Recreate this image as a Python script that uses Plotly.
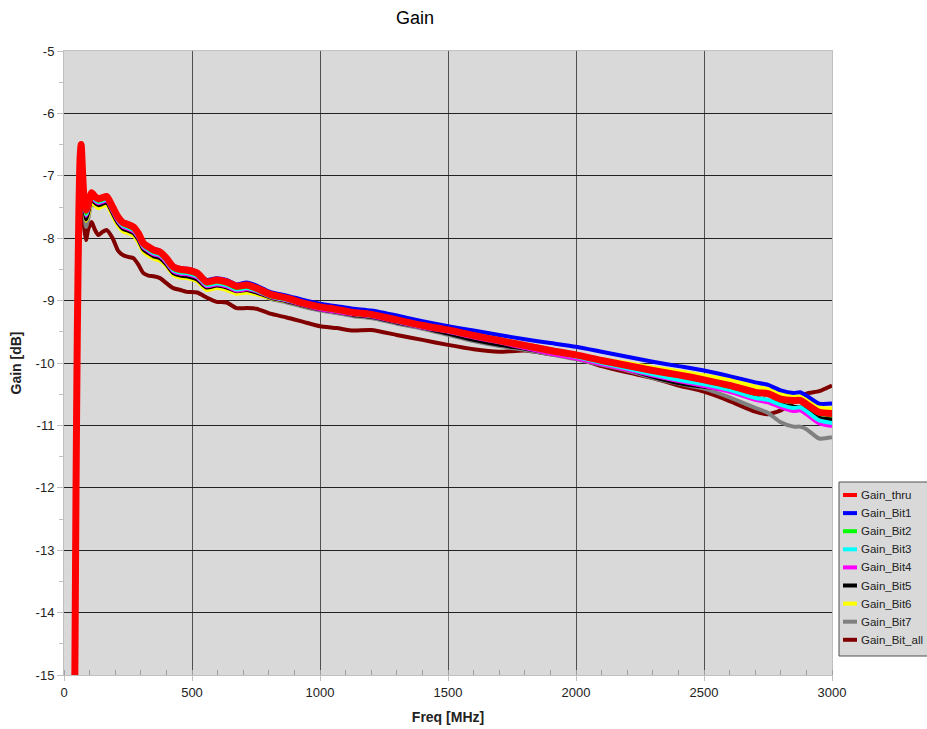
import plotly.graph_objects as go

freq_mhz = [40, 47, 52, 58, 63, 67, 72, 78, 86, 95,
            108, 120, 134, 150, 167, 190, 211, 230, 250, 271,
            290, 310, 330, 350, 375, 400, 427, 455, 480, 520,
            557, 596, 635, 674, 713, 752, 805, 870, 935, 1000,
            1065, 1130, 1200, 1300, 1400, 1500, 1600, 1700, 1800, 1900,
            2000, 2100, 2200, 2300, 2400, 2500, 2600, 2700, 2750, 2800,
            2850, 2875, 2900, 2950, 3000]

gain_thru = [-16.5, -12.0, -9.5, -7.6, -6.7, -6.5, -6.9, -7.35, -7.55, -7.45,
             -7.27, -7.33, -7.37, -7.35, -7.33, -7.5, -7.66, -7.75, -7.78, -7.82,
             -7.92, -8.08, -8.14, -8.19, -8.22, -8.32, -8.46, -8.50, -8.51, -8.56,
             -8.70, -8.67, -8.70, -8.77, -8.75, -8.80, -8.90, -8.96, -9.04, -9.10,
             -9.14, -9.19, -9.22, -9.31, -9.40, -9.47, -9.56, -9.64, -9.72, -9.80,
             -9.87, -9.96, -10.04, -10.12, -10.19, -10.27, -10.36, -10.47, -10.49, -10.58,
             -10.60, -10.60, -10.66, -10.79, -10.81]

gain_bit1 = [-16.5, -12.0, -9.5, -7.6, -6.7, -6.5, -6.9, -7.35, -7.57, -7.44,
             -7.26, -7.31, -7.36, -7.34, -7.32, -7.48, -7.64, -7.73, -7.76, -7.80,
             -7.90, -8.06, -8.12, -8.17, -8.20, -8.30, -8.44, -8.48, -8.49, -8.54,
             -8.67, -8.64, -8.67, -8.74, -8.71, -8.76, -8.86, -8.92, -8.99, -9.05,
             -9.09, -9.13, -9.16, -9.24, -9.33, -9.41, -9.48, -9.55, -9.62, -9.68,
             -9.74, -9.82, -9.90, -9.98, -10.05, -10.12, -10.21, -10.31, -10.35, -10.44,
             -10.48, -10.47, -10.52, -10.65, -10.65]

gain_bit2 = [-16.5, -12.0, -9.5, -7.6, -6.7, -6.5, -6.9, -7.36, -7.6, -7.5,
             -7.3, -7.36, -7.4, -7.38, -7.36, -7.53, -7.69, -7.78, -7.81, -7.85,
             -7.95, -8.11, -8.17, -8.22, -8.25, -8.35, -8.49, -8.53, -8.54, -8.59,
             -8.73, -8.70, -8.73, -8.80, -8.78, -8.83, -8.93, -8.98, -9.06, -9.12,
             -9.16, -9.21, -9.24, -9.31, -9.40, -9.46, -9.54, -9.62, -9.70, -9.78,
             -9.86, -9.96, -10.05, -10.13, -10.20, -10.28, -10.38, -10.49, -10.51, -10.60,
             -10.62, -10.62, -10.68, -10.81, -10.84]

gain_bit3 = [-16.5, -12.0, -9.5, -7.6, -6.7, -6.5, -6.9, -7.37, -7.62, -7.52,
             -7.32, -7.38, -7.42, -7.40, -7.38, -7.55, -7.71, -7.80, -7.83, -7.87,
             -7.97, -8.13, -8.19, -8.24, -8.27, -8.37, -8.51, -8.55, -8.56, -8.61,
             -8.75, -8.72, -8.75, -8.82, -8.80, -8.84, -8.93, -8.99, -9.06, -9.12,
             -9.16, -9.21, -9.24, -9.33, -9.42, -9.49, -9.58, -9.66, -9.74, -9.82,
             -9.90, -10.00, -10.09, -10.18, -10.27, -10.34, -10.43, -10.56, -10.59, -10.67,
             -10.72, -10.71, -10.77, -10.92, -10.96]

gain_bit4 = [-16.5, -12.0, -9.5, -7.6, -6.7, -6.5, -6.9, -7.38, -7.64, -7.54,
             -7.33, -7.40, -7.44, -7.42, -7.40, -7.57, -7.73, -7.82, -7.85, -7.89,
             -7.99, -8.15, -8.21, -8.26, -8.29, -8.39, -8.53, -8.57, -8.58, -8.63,
             -8.77, -8.74, -8.77, -8.84, -8.82, -8.85, -8.94, -9.00, -9.07, -9.14,
             -9.18, -9.22, -9.25, -9.34, -9.43, -9.50, -9.59, -9.67, -9.76, -9.85,
             -9.93, -10.02, -10.11, -10.20, -10.29, -10.37, -10.46, -10.59, -10.63, -10.71,
             -10.77, -10.76, -10.82, -10.97, -11.01]

gain_bit5 = [-16.5, -12.0, -9.5, -7.6, -6.7, -6.5, -6.9, -7.4, -7.7, -7.58,
             -7.36, -7.43, -7.47, -7.45, -7.43, -7.60, -7.76, -7.85, -7.88, -7.92,
             -8.02, -8.18, -8.24, -8.29, -8.32, -8.42, -8.56, -8.60, -8.61, -8.66,
             -8.79, -8.76, -8.79, -8.85, -8.83, -8.87, -8.95, -9.01, -9.08, -9.14,
             -9.18, -9.23, -9.26, -9.35, -9.43, -9.53, -9.63, -9.71, -9.77, -9.84,
             -9.92, -10.01, -10.10, -10.22, -10.32, -10.38, -10.43, -10.55, -10.60, -10.66,
             -10.70, -10.71, -10.75, -10.88, -10.90]

gain_bit6 = [-16.5, -12.0, -9.5, -7.6, -6.7, -6.5, -6.9, -7.42, -7.72, -7.62,
             -7.42, -7.47, -7.52, -7.49, -7.47, -7.64, -7.80, -7.89, -7.92, -7.96,
             -8.06, -8.22, -8.28, -8.33, -8.36, -8.45, -8.59, -8.63, -8.64, -8.69,
             -8.83, -8.80, -8.83, -8.89, -8.87, -8.90, -8.96, -9.01, -9.08, -9.13,
             -9.17, -9.21, -9.24, -9.32, -9.41, -9.48, -9.57, -9.65, -9.74, -9.81,
             -9.87, -9.94, -10.00, -10.07, -10.13, -10.20, -10.27, -10.38, -10.42, -10.50,
             -10.54, -10.54, -10.59, -10.71, -10.73]

gain_bit7 = [-16.5, -12.0, -9.5, -7.6, -6.7, -6.5, -6.9, -7.45, -7.82, -7.68,
             -7.45, -7.48, -7.50, -7.47, -7.45, -7.62, -7.78, -7.87, -7.90, -7.94,
             -8.04, -8.20, -8.26, -8.31, -8.34, -8.44, -8.58, -8.62, -8.63, -8.68,
             -8.81, -8.78, -8.81, -8.87, -8.85, -8.89, -8.97, -9.03, -9.10, -9.16,
             -9.20, -9.25, -9.28, -9.37, -9.45, -9.55, -9.65, -9.73, -9.79, -9.86,
             -9.94, -10.03, -10.12, -10.24, -10.33, -10.41, -10.55, -10.72, -10.80, -10.95,
             -11.02, -11.02, -11.06, -11.21, -11.19]

gain_bit_all = [-16.5, -12.0, -9.5, -7.7, -6.9, -6.8, -7.3, -7.8, -8.03, -7.85,
                -7.74, -7.86, -7.95, -7.90, -7.87, -8.0, -8.2, -8.27, -8.30, -8.32,
                -8.42, -8.56, -8.60, -8.61, -8.64, -8.72, -8.80, -8.83, -8.86, -8.87,
                -8.95, -9.02, -9.03, -9.12, -9.12, -9.13, -9.21, -9.27, -9.34, -9.41,
                -9.44, -9.48, -9.47, -9.55, -9.63, -9.71, -9.78, -9.82, -9.80, -9.86,
                -9.92, -10.05, -10.15, -10.24, -10.36, -10.46, -10.61, -10.78, -10.82, -10.76,
                -10.62, -10.56, -10.49, -10.45, -10.36]

series_names = ["Gain_thru", "Gain_Bit1", "Gain_Bit2", "Gain_Bit3", "Gain_Bit4",
                "Gain_Bit5", "Gain_Bit6", "Gain_Bit7", "Gain_Bit_all"]
series_values = [gain_thru, gain_bit1, gain_bit2, gain_bit3, gain_bit4,
                 gain_bit5, gain_bit6, gain_bit7, gain_bit_all]
series_colors = ["#ff0000", "#0000ff", "#00ff00", "#00ffff", "#ff00ff",
                 "#000000", "#ffff00", "#808080", "#800000"]
series_widths = [7, 4, 4, 4, 4, 4, 4, 4, 4]

y_tick_values = [-15, -14, -13, -12, -11, -10, -9, -8, -7, -6, -5]
y_tick_labels = ["-15", "-14", "-13", "-12", "-11", "-10", "-9", "-8", "-7", "-6", "-5"]
x_tick_values = [0, 500, 1000, 1500, 2000, 2500, 3000]
x_tick_labels = ["0", "500", "1000", "1500", "2000", "2500", "3000"]

W, H = 927, 729
ML, MR, MT, MB = 64, 95, 51, 54
PW, PH = W - ML - MR, H - MT - MB


def px_x(p):
    return (p - ML) / PW


def px_y(p):
    return (H - MB - p) / PH


fig = go.Figure()
for name, vals, col, w in reversed(list(zip(series_names, series_values, series_colors, series_widths))):
    fig.add_trace(go.Scatter(
        x=freq_mhz, y=vals, name=name, mode="lines",
        line=dict(color=col, width=w, shape="spline", smoothing=0.6),
        showlegend=False,
    ))

font_family = "Liberation Sans, Arial, sans-serif"

# custom legend box (pixel layout)
shapes = [dict(type="rect", xref="paper", yref="paper",
               x0=px_x(839), x1=px_x(940), y0=px_y(482), y1=px_y(656),
               fillcolor="#d9d9d9", line=dict(color="#505050", width=1), layer="above")]
annotations = []
row0, row_step = 495, 18.1
for i, (name, col) in enumerate(zip(series_names, series_colors)):
    yy = row0 + i * row_step
    shapes.append(dict(type="line", xref="paper", yref="paper",
                       x0=px_x(843), x1=px_x(857), y0=px_y(yy), y1=px_y(yy),
                       line=dict(color=col, width=4), layer="above"))
    annotations.append(dict(xref="paper", yref="paper", x=px_x(859), y=px_y(yy),
                            xanchor="left", yanchor="middle", text=name, showarrow=False,
                            font=dict(size=11.5, color="#222222", family=font_family)))

fig.update_layout(
    width=W, height=H,
    margin=dict(l=ML, r=MR, t=MT, b=MB, autoexpand=False),
    paper_bgcolor="white",
    plot_bgcolor="#d9d9d9",
    font=dict(family=font_family, size=13, color="#222222"),
    title=dict(text="Gain", x=415 / W, xanchor="center", xref="container",
               y=1 - 18 / H, yanchor="middle", yref="container",
               font=dict(size=18, color="#000000")),
    showlegend=False,
    shapes=shapes,
    annotations=annotations,
    xaxis=dict(
        range=[0, 3000], tickvals=x_tick_values, ticktext=x_tick_labels,
        showgrid=True, gridcolor="#505050", gridwidth=1.2,
        zeroline=False,
        showline=True, linecolor="#c0c0c0", linewidth=1, mirror=True,
        ticks="outside", ticklen=5, tickcolor="#c0c0c0",
        minor=dict(dtick=100, tick0=0, ticks="inside", ticklen=5, tickcolor="#a0a0a0", showgrid=False),
        title=dict(text="<b>Freq [MHz]</b>", font=dict(size=14, color="#222222"), standoff=13),
        tickfont=dict(size=13),
    ),
    yaxis=dict(
        range=[-15, -5], tickvals=y_tick_values, ticktext=y_tick_labels,
        showgrid=True, gridcolor="#222222", gridwidth=1,
        zeroline=False,
        showline=True, linecolor="#c0c0c0", linewidth=1, mirror=True,
        ticks="outside", ticklen=6, tickcolor="#c0c0c0",
        minor=dict(dtick=0.5, tick0=-15, ticks="outside", ticklen=4, tickcolor="#c0c0c0", showgrid=False),
        title=dict(text="<b>Gain [dB]</b>", font=dict(size=14, color="#222222"), standoff=10),
        tickfont=dict(size=13),
    ),
)

fig.write_html("out.html", config={"displayModeBar": False},
               post_script="document.body.style.margin='0px';document.body.style.overflow='hidden';")
